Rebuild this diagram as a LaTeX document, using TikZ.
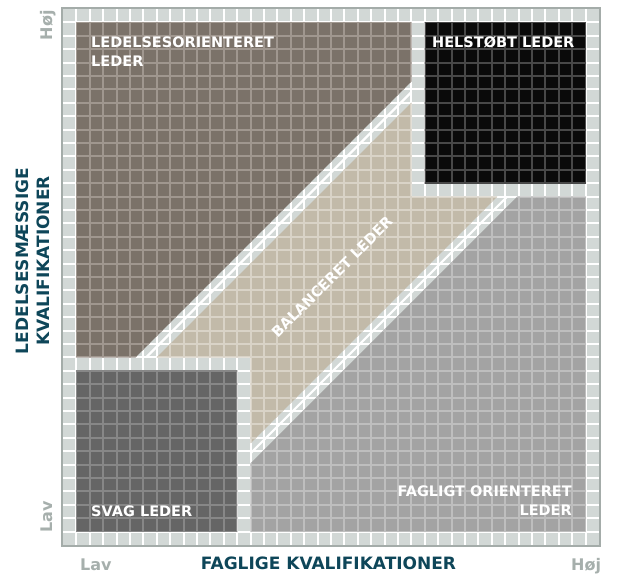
\documentclass[tikz,border=0pt]{standalone}
\usepackage{fontspec}
\setmainfont{DejaVu Sans}
\newfontfamily\boxfont{DejaVu Sans Bold}
\definecolor{framec}{HTML}{A4ACA9}
\definecolor{cellbg}{HTML}{D2D8D6}
\definecolor{brownC}{HTML}{7B7269}\definecolor{brownL}{HTML}{A0978F}
\definecolor{blackC}{HTML}{0A0A0A}\definecolor{blackL}{HTML}{484848}
\definecolor{svagC}{HTML}{656565}\definecolor{svagL}{HTML}{878787}
\definecolor{grayC}{HTML}{A3A3A3}\definecolor{grayL}{HTML}{BEBEBE}
\definecolor{beigeC}{HTML}{C2BAA9}\definecolor{beigeL}{HTML}{D9D3C7}
\definecolor{tealc}{HTML}{0E4659}
\definecolor{axgray}{HTML}{A6AFAC}
\newcommand\mygridlines[1]{\foreach \k in {1,...,39}{\draw[#1, line width=2pt] (\k,0) -- (\k,40); \draw[#1, line width=2pt] (0,\k) -- (40,\k);}}
\newcommand\cellregion[3]{\begin{scope}\clip #3; \fill[#1] (0,0) rectangle (40,40); \mygridlines{#2}\end{scope}}
\tikzset{
  boxlbl/.style={text=white, font=\boxfont\fontsize{14.5}{17}\selectfont, inner sep=0pt},
  axlbl/.style={text=tealc, font=\bfseries\fontsize{17}{20}\selectfont, inner sep=0pt},
  endlbl/.style={text=axgray, font=\bfseries\fontsize{16}{19}\selectfont, inner sep=0pt},
}
\begin{document}
\begin{tikzpicture}[x=1pt,y=-1pt]
\useasboundingbox (0,0) rectangle (617,576);
\fill[white] (0,0) rectangle (617,576);
% frame
\draw[framec, line width=2pt] (62,8) rectangle (600,546);
\begin{scope}[shift={(63,9)}]
\begin{scope}[x=13.4pt,y=-13.4pt]
\fill[cellbg] (0,0) rectangle (40,40);
\mygridlines{white}
\cellregion{brownC}{brownL}{(1,1) -- (26,1) -- (26,5.4) -- (5.4,26) -- (1,26) -- cycle}
\cellregion{blackC}{blackL}{(27,1) rectangle (39,13)}
\cellregion{svagC}{svagL}{(1,27) rectangle (13,39)}
\cellregion{grayC}{grayL}{(14,39) -- (14,33.9) -- (33.9,14) -- (39,14) -- (39,39) -- cycle}
\cellregion{beigeC}{beigeL}{(7,26) -- (26,7) -- (26,14) -- (32.4,14) -- (14,32.4) -- (14,26) -- cycle}
\coordinate (u1) at (6.2,26); \coordinate (u2) at (26,6.2);
\coordinate (l1) at (14,33.15); \coordinate (l2) at (33.15,14);
\draw[white, line width=2.2pt] (u1) -- (u2);
\draw[white, line width=2.2pt] (l1) -- (l2);
\end{scope}
\end{scope}
% box labels
\node[boxlbl, anchor=base west] (lo1) at (91,47) {LEDELSESORIENTERET};
\node[boxlbl, anchor=base west] (lo2) at (91,66.5) {LEDER};
\node[boxlbl, anchor=base west] (hl) at (432,47.7) {HELSTØBT LEDER};
\node[boxlbl, anchor=base west] (sv) at (91,516) {SVAG LEDER};
\node[boxlbl, anchor=base east] (fo1) at (572,496.7) {FAGLIGT ORIENTERET};
\node[boxlbl, anchor=base east] (fo2) at (572,515.7) {LEDER};
\node[boxlbl, rotate=45] (bl) at (332,277) {BALANCERET LEDER};
% axes
\node[axlbl, anchor=base] (fx) at (328.5,569.3) {FAGLIGE KVALIFIKATIONER};
\node[axlbl, anchor=base, rotate=90] (ly1) at (28,261) {LEDELSESMÆSSIGE};
\node[axlbl, anchor=base, rotate=90] (ly2) at (49,261) {KVALIFIKATIONER};
\node[endlbl, anchor=base west] (xlav) at (80,570) {Lav};
\node[endlbl, anchor=base west] (xhoj) at (571,570) {Høj};
\node[endlbl, anchor=base west, rotate=90] (ylav) at (52,533) {Lav};
\node[endlbl, anchor=base east, rotate=90] (yhoj) at (52,10) {Høj};
\end{tikzpicture}
\end{document}
